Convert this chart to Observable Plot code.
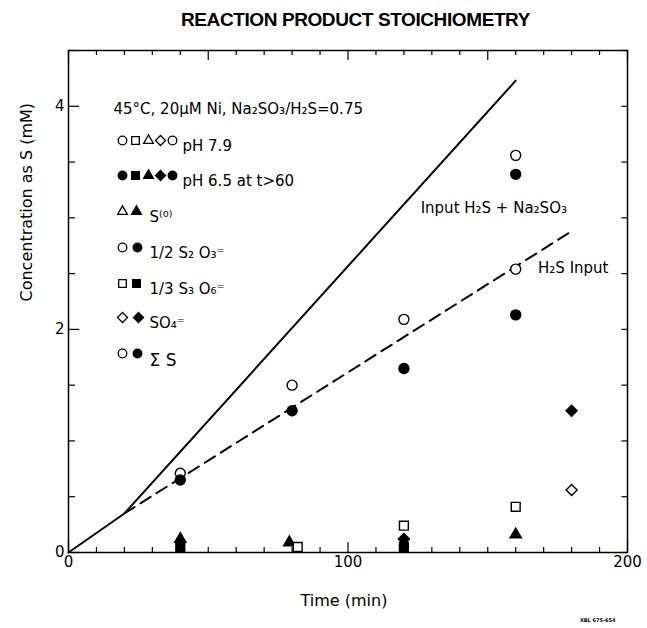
<!DOCTYPE html>
<html>
<head>
<meta charset="utf-8">
<script src="https://cdn.jsdelivr.net/npm/d3@7"></script>
<script src="https://cdn.jsdelivr.net/npm/@observablehq/plot@0.6"></script>
<style>
  html, body { margin: 0; padding: 0; background: #fff; }
  #title {
    height: 40px; line-height: 40px; box-sizing: border-box;
    padding-left: 64px; text-align: center;
    font-family: "Liberation Sans Narrow", "Liberation Sans", Arial, sans-serif;
    font-weight: bold; font-size: 19px; letter-spacing: -0.4px; color: #000;
  }
  #chart svg { display: block; }
</style>
</head>
<body>
<div id="title">REACTION PRODUCT STOICHIOMETRY</div>
<div id="chart"></div>
<script>
// ---------- data ----------
const xTicks = [0, 100, 200];
const yTicks = [0, 2, 4];
const xMinorTicks = d3.range(0, 201, 10);
const yMinorTicks = d3.range(0, 4.51, 0.5);

// input lines (mM S vs min)
const totalInputTime = [0, 20, 160];
const totalInputConc = [0, 0.35, 4.23];
const h2sInputTime = [20, 180];
const h2sInputConc = [0.35, 2.88];

// measured species (open = pH 7.9, filled = pH 6.5 at t>60)
const s2o3OpenTime = [40, 80, 120, 160];
const s2o3OpenConc = [0.71, 1.50, 2.09, 2.54];
const s2o3FilledTime = [40, 80, 120, 160];
const s2o3FilledConc = [0.65, 1.27, 1.65, 2.13];
const sumSOpenTime = [160];
const sumSOpenConc = [3.56];
const sumSFilledTime = [160];
const sumSFilledConc = [3.39];
const s0FilledTime = [40, 79, 160];
const s0FilledConc = [0.12, 0.09, 0.16];
const s3o6OpenTime = [82, 120, 160];
const s3o6OpenConc = [0.05, 0.24, 0.41];
const s3o6FilledTime = [40, 120];
const s3o6FilledConc = [0.05, 0.05];
const so4OpenTime = [180];
const so4OpenConc = [0.56];
const so4FilledTime = [120, 180];
const so4FilledConc = [0.12, 1.27];

// text
const headerText = "45°C, 20μM Ni, Na₂SO₃/H₂S=0.75";
const legendLabels = ["pH 7.9", "pH 6.5 at t>60", "S⁽⁰⁾", "1/2 S₂ O₃⁼", "1/3 S₃ O₆⁼", "SO₄⁼", "Σ S"];
const annotLabels = ["Input H₂S + Na₂SO₃", "H₂S Input"];
const annotTime = [126, 168];
const annotConc = [3.09, 2.55];

// ---------- build ----------
const sym = {circle: "circle", square: "square", triangle: "triangle", diamond: "diamond2"};
const symR = {circle: 5, square: 5, triangle: 4.2, diamond: 5};
const legR = {circle: 4.3, square: 4.3, triangle: 3.6, diamond: 4.5};
const series = [
  {shape: "circle", filled: false, t: s2o3OpenTime, v: s2o3OpenConc},
  {shape: "circle", filled: true, t: s2o3FilledTime, v: s2o3FilledConc},
  {shape: "circle", filled: false, t: sumSOpenTime, v: sumSOpenConc},
  {shape: "circle", filled: true, t: sumSFilledTime, v: sumSFilledConc},
  {shape: "triangle", filled: true, t: s0FilledTime, v: s0FilledConc},
  {shape: "square", filled: false, t: s3o6OpenTime, v: s3o6OpenConc},
  {shape: "square", filled: true, t: s3o6FilledTime, v: s3o6FilledConc},
  {shape: "diamond", filled: false, t: so4OpenTime, v: so4OpenConc},
  {shape: "diamond", filled: true, t: so4FilledTime, v: so4FilledConc}
];

const marks = [];

// frame and inward ticks
marks.push(Plot.frame({stroke: "black", strokeWidth: 1.5}));
marks.push(Plot.ruleY(yMinorTicks, {y: d => d, x1: 0, x2: d => (yTicks.includes(d) ? 4 : 2.5), stroke: "black", strokeWidth: 1.2}));
marks.push(Plot.ruleY(yMinorTicks, {y: d => d, x1: 198, x2: 200, stroke: "black", strokeWidth: 1.2}));
marks.push(Plot.ruleX(xMinorTicks, {x: d => d, y1: 0, y2: d => (xTicks.includes(d) ? 0.09 : 0.045), stroke: "black", strokeWidth: 1.2}));
marks.push(Plot.ruleX(xMinorTicks, {x: d => d, y1: d => (d % 50 === 0 ? 4.41 : 4.455), y2: 4.5, stroke: "black", strokeWidth: 1.2}));

// tick labels
marks.push(Plot.axisX({ticks: xTicks, tickSize: 0, tickPadding: 4, label: null, fontSize: 15, tickFormat: d => String(d)}));
marks.push(Plot.axisY({ticks: yTicks, tickSize: 0, tickPadding: 4, label: null, fontSize: 15, tickFormat: d => String(d)}));

// axis titles
marks.push(Plot.text(["Time (min)"], {frameAnchor: "bottom", text: d => d, dx: -4, dy: 53, fontSize: 16}));
marks.push(Plot.text(["Concentration as S (mM)"], {frameAnchor: "left", text: d => d, rotate: -90, dx: -42, fontSize: 16}));

// lines
marks.push(Plot.line(totalInputTime.map((t, i) => ({t, c: totalInputConc[i]})), {x: "t", y: "c", stroke: "black", strokeWidth: 2}));
marks.push(Plot.line(h2sInputTime.map((t, i) => ({t, c: h2sInputConc[i]})), {x: "t", y: "c", stroke: "black", strokeWidth: 2, strokeDasharray: "12,7"}));

// data points
for (const s of series) {
  const pts = s.t.map((t, i) => ({t, c: s.v[i]}));
  marks.push(Plot.dot(pts, {
    x: "t", y: "c", symbol: sym[s.shape], r: symR[s.shape],
    fill: s.filled ? "black" : "white", stroke: "black", strokeWidth: 1.4
  }));
}

// annotations
marks.push(Plot.text(annotLabels.map((l, i) => ({l, t: annotTime[i], c: annotConc[i]})), {
  x: "t", y: "c", text: "l", textAnchor: "start", fontSize: 15
}));

// legend
marks.push(Plot.text([headerText], {frameAnchor: "top-left", text: d => d, textAnchor: "start", dx: 45, dy: 53, fontSize: 15}));
const legendRows = [
  {dy: 90, syms: [["circle", false], ["square", false], ["triangle", false], ["diamond", false], ["circle", false]], dxs: [54, 67, 80, 92, 104], tdx: 114},
  {dy: 125, syms: [["circle", true], ["square", true], ["triangle", true], ["diamond", true], ["circle", true]], dxs: [54, 67, 80, 92, 104], tdx: 114},
  {dy: 161, syms: [["triangle", false], ["triangle", true]], dxs: [54, 68], tdx: 81},
  {dy: 197, syms: [["circle", false], ["circle", true]], dxs: [54, 69], tdx: 81},
  {dy: 233, syms: [["square", false], ["square", true]], dxs: [54, 68], tdx: 81},
  {dy: 267, syms: [["diamond", false], ["diamond", true]], dxs: [54, 70], tdx: 81},
  {dy: 303, syms: [["circle", false], ["circle", true]], dxs: [54, 69], tdx: 81}
];
legendRows.forEach((row, i) => {
  row.syms.forEach(([shape, filled], j) => {
    marks.push(Plot.dot([0], {
      frameAnchor: "top-left", dx: row.dxs[j], dy: row.dy,
      symbol: sym[shape], r: legR[shape],
      fill: filled ? "black" : "white", stroke: "black", strokeWidth: 1.3
    }));
  });
  marks.push(Plot.text([legendLabels[i]], {
    frameAnchor: "top-left", text: d => d, textAnchor: "start",
    dx: row.tdx, dy: row.dy, fontSize: i === 6 ? 17 : 15
  }));
});

// drawing number stamp
marks.push(Plot.text(["XBL 675-654"], {frameAnchor: "bottom-right", text: d => d, dx: -12, dy: 69, fontSize: 5, fontWeight: "bold"}));

const chart = Plot.plot({
  width: 647,
  height: 588,
  marginLeft: 68,
  marginRight: 20,
  marginTop: 10,
  marginBottom: 76,
  x: {domain: [0, 200]},
  y: {domain: [0, 4.5]},
  style: {fontFamily: "'DejaVu Sans', sans-serif", fontSize: "14px", color: "black", background: "white"},
  marks
});
document.getElementById("chart").appendChild(chart);
</script>
</body>
</html>
